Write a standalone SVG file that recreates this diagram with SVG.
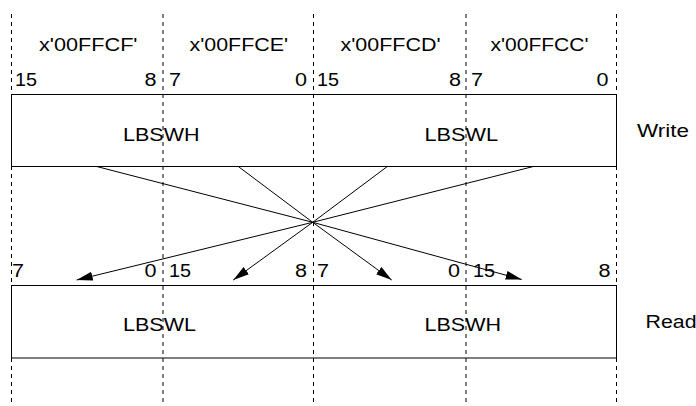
<svg xmlns="http://www.w3.org/2000/svg" width="696" height="406" viewBox="0 0 696 406">
  <defs>
    <style>
      text { font-family: "Liberation Sans", Arial, sans-serif; font-size: 17.5px; fill: #000; }
      .grid { stroke: #000; stroke-width: 1; stroke-dasharray: 4 4; fill: none; }
      .box { fill: none; stroke: #000; stroke-width: 1; }
      .conn { stroke: #000; stroke-width: 1; fill: none; marker-end: url(#arrow); }
    </style>
    <marker id="arrow" markerUnits="userSpaceOnUse" markerWidth="17" markerHeight="10" refX="16" refY="4.5" orient="auto">
      <path d="M0,0 L16,4.5 L0,9 Z" fill="#000"/>
    </marker>
  </defs>
  <rect width="696" height="406" fill="#fff"/>

  <g id="write-register">
    <rect class="box" x="11.5" y="94.5" width="605" height="72"/>
    <text x="123" y="141" textLength="76.5" lengthAdjust="spacingAndGlyphs">LBSWH</text>
    <text x="424.5" y="141" textLength="73.5" lengthAdjust="spacingAndGlyphs">LBSWL</text>
    <text x="637" y="136.5" textLength="52" lengthAdjust="spacingAndGlyphs">Write</text>
  </g>

  <g id="read-register">
    <rect class="box" x="11.5" y="285.5" width="605" height="72.5"/>
    <text x="123" y="331" textLength="73" lengthAdjust="spacingAndGlyphs">LBSWL</text>
    <text x="424.5" y="331" textLength="76.5" lengthAdjust="spacingAndGlyphs">LBSWH</text>
    <text x="645.5" y="328" textLength="51" lengthAdjust="spacingAndGlyphs">Read</text>
  </g>

  <g id="addresses">
    <text x="39" y="50.5" textLength="98.5" lengthAdjust="spacingAndGlyphs">x'00FFCF'</text>
    <text x="189.5" y="50.5" textLength="98.5" lengthAdjust="spacingAndGlyphs">x'00FFCE'</text>
    <text x="340.5" y="50.5" textLength="100" lengthAdjust="spacingAndGlyphs">x'00FFCD'</text>
    <text x="490.5" y="50.5" textLength="98" lengthAdjust="spacingAndGlyphs">x'00FFCC'</text>
  </g>

  <g id="write-bits">
    <text x="15" y="85.5" textLength="22" lengthAdjust="spacingAndGlyphs">15</text>
    <text x="144.5" y="85.5" textLength="12" lengthAdjust="spacingAndGlyphs">8</text>
    <text x="169" y="85.5" textLength="12" lengthAdjust="spacingAndGlyphs">7</text>
    <text x="295" y="85.5" textLength="12" lengthAdjust="spacingAndGlyphs">0</text>
    <text x="317" y="85.5" textLength="22" lengthAdjust="spacingAndGlyphs">15</text>
    <text x="449" y="85.5" textLength="12" lengthAdjust="spacingAndGlyphs">8</text>
    <text x="471" y="85.5" textLength="12" lengthAdjust="spacingAndGlyphs">7</text>
    <text x="596.5" y="85.5" textLength="12" lengthAdjust="spacingAndGlyphs">0</text>
  </g>

  <g id="read-bits">
    <text x="12" y="277" textLength="12" lengthAdjust="spacingAndGlyphs">7</text>
    <text x="144.5" y="277" textLength="12" lengthAdjust="spacingAndGlyphs">0</text>
    <text x="169" y="277" textLength="22" lengthAdjust="spacingAndGlyphs">15</text>
    <text x="295" y="277" textLength="12" lengthAdjust="spacingAndGlyphs">8</text>
    <text x="317" y="277" textLength="12" lengthAdjust="spacingAndGlyphs">7</text>
    <text x="448" y="277" textLength="12" lengthAdjust="spacingAndGlyphs">0</text>
    <text x="473" y="277" textLength="22" lengthAdjust="spacingAndGlyphs">15</text>
    <text x="598.5" y="277" textLength="12" lengthAdjust="spacingAndGlyphs">8</text>
  </g>

  <g id="connectors">
    <polyline class="conn" points="96.7,166.5 312.7,222.3 521.7,279.5"/>
    <polyline class="conn" points="238.3,166.5 312.7,222.3 391.7,280"/>
    <polyline class="conn" points="387.3,166.5 312.7,222.3 233.3,280"/>
    <polyline class="conn" points="533.3,166.5 312.7,222.3 76.7,280"/>
  </g>

  <g id="grid-lines">
    <line class="grid" x1="11.5" y1="14" x2="11.5" y2="402"/>
    <line class="grid" x1="163" y1="14" x2="163" y2="402"/>
    <line class="grid" x1="313.5" y1="14" x2="313.5" y2="402"/>
    <line class="grid" x1="466" y1="14" x2="466" y2="402"/>
    <line class="grid" x1="616.5" y1="14" x2="616.5" y2="402"/>
  </g>
</svg>
